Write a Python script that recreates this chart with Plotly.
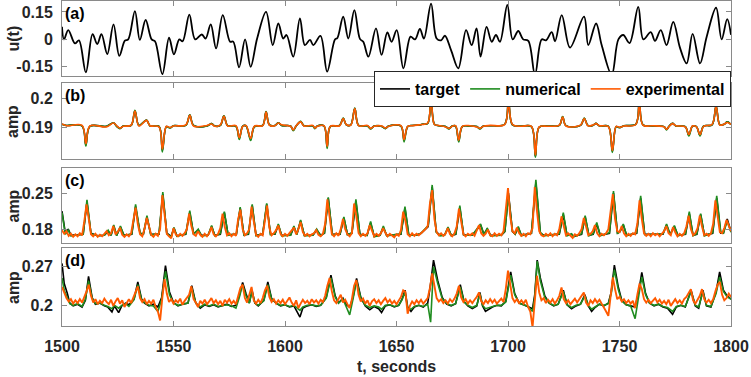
import plotly.graph_objects as go

# ---------------- data ----------------
a_t = [1500.0,1500.9,1502.8,1505.8,1507.6,1510.7,1513.7,1515.8,1517.7,1520.3,
       1523.1,1525.7,1528.2,1529.7,1532.7,1534.9,1537.5,1540.2,1541.7,1545.0,
       1548.0,1550.2,1552.6,1554.1,1557.1,1559.7,1562.7,1564.4,1566.7,1569.1,
       1572.1,1575.4,1576.8,1579.4,1582.1,1584.6,1587.5,1591.5,1594.5,1597.0,
       1599.2,1600.7,1603.7,1606.7,1608.9,1611.2,1612.7,1615.9,1618.9,1622.4,
       1623.5,1626.1,1628.4,1631.1,1633.6,1635.1,1637.4,1640.8,1643.3,1645.9,
       1647.8,1650.1,1653.1,1656.3,1658.3,1660.5,1662.3,1665.5,1668.0,1670.0,
       1671.7,1674.5,1677.7,1681.2,1683.7,1685.9,1687.7,1690.4,1692.7,1694.6,
       1696.4,1699.7,1702.1,1704.6,1706.8,1709.1,1712.1,1715.1,1717.0,1719.6,
       1721.1,1724.1,1727.8,1734.1,1736.0,1739.5,1742.0,1746.5,1749.5,1751.7,
       1754.5,1758.4,1760.7,1764.0,1765.9,1768.5,1771.1,1774.1,1777.1,1780.1,
       1782.8,1786.1,1789.1,1793.3,1795.8,1798.3,1800.0]
a_u = [0.069,0.000,0.051,-0.022,-0.005,-0.180,0.029,-0.025,0.029,-0.080,
       0.082,-0.090,-0.007,0.000,0.155,-0.003,0.106,0.000,-0.010,-0.190,
       0.009,-0.082,0.000,-0.010,0.136,0.000,0.027,0.005,0.082,-0.049,
       0.133,-0.013,-0.012,-0.153,0.000,-0.150,0.005,0.151,-0.031,0.087,
       0.005,0.024,-0.094,0.115,-0.031,-0.003,-0.031,0.019,-0.176,0.000,
       0.008,0.124,0.005,0.160,0.003,-0.013,-0.094,0.060,-0.085,0.038,
       -0.013,0.051,-0.158,0.015,0.000,0.057,0.005,0.196,0.005,-0.005,
       0.020,-0.060,-0.158,0.051,-0.031,0.060,-0.094,0.069,-0.013,0.024,
       -0.013,0.188,0.000,0.046,0.000,-0.008,-0.194,0.000,-0.005,0.040,
       -0.010,0.133,-0.045,0.124,-0.031,0.087,-0.031,-0.194,0.000,0.024,
       -0.020,0.178,0.000,0.040,-0.008,0.051,-0.031,0.096,-0.045,-0.131,
       0.030,-0.131,0.015,0.173,0.000,0.111,0.025]

b_t = [1500,1502,1509,1510.7,1512.5,1520,1523.1,1524.5,1526,1527.5,
       1531,1532.7,1534.5,1537.9,1539.5,1543.5,1545.0,1546.8,1548.5,1550,
       1555.5,1557.3,1559,1565,1567.1,1568.5,1571,1572.6,1574.3,1578,
       1579.5,1581,1582.5,1584.6,1586.3,1590,1591.5,1593,1595.5,1597.0,
       1598.5,1602.5,1603.7,1605,1607.0,1608.5,1612.5,1613.4,1614.5,1617.5,
       1618.9,1620.3,1624.5,1626.1,1627.5,1629.5,1631.3,1633,1637,1638.4,
       1640,1643.5,1645,1646.5,1652,1653.4,1655,1657,1660,1661.5,
       1664,1665.5,1667,1669,1672,1673.5,1675,1676.5,1677.9,1679.5,
       1683,1686,1687.4,1689,1692,1698.5,1700.2,1702,1706,1710.5,
       1712.3,1714,1718,1723,1724.5,1726,1732.5,1734.2,1735.8,1738,
       1739.5,1741,1745,1746.8,1748.5,1750,1752,1757.3,1758.9,1760.5,
       1765,1770,1771.1,1772.3,1773.8,1775.3,1779.5,1781.1,1782.7,1784.5,
       1786.1,1787.7,1791.5,1793.3,1795,1797,1798.3,1800]
b_target = [0.1912,0.1908,0.1906,0.1842,0.1905,0.1905,0.1917,0.1905,0.1898,0.1906,
            0.1908,0.1958,0.1908,0.1926,0.1906,0.1905,0.1824,0.1904,0.1900,0.1907,
            0.1908,0.1943,0.1908,0.1906,0.1914,0.1906,0.1908,0.1940,0.1907,0.1905,
            0.1864,0.1905,0.1907,0.1862,0.1904,0.1908,0.1954,0.1910,0.1908,0.1917,
            0.1908,0.1906,0.1892,0.1906,0.1921,0.1907,0.1906,0.1898,0.1906,0.1906,
            0.1835,0.1904,0.1908,0.1932,0.1910,0.1910,0.1966,0.1908,0.1906,0.1897,
            0.1906,0.1904,0.1898,0.1906,0.1906,0.1858,0.1904,0.1908,0.1909,0.1912,
            0.1915,0.2000,0.1912,0.1907,0.1904,0.1897,0.1906,0.1906,0.1856,0.1904,
            0.1906,0.1904,0.1897,0.1906,0.1907,0.1912,0.1990,0.1910,0.1906,0.1904,
            0.1804,0.1902,0.1906,0.1908,0.1937,0.1907,0.1908,0.1932,0.1908,0.1908,
            0.1915,0.1906,0.1905,0.1821,0.1904,0.1901,0.1907,0.1912,0.1990,0.1910,
            0.1906,0.1904,0.1894,0.1906,0.1915,0.1906,0.1904,0.1875,0.1905,0.1904,
            0.1875,0.1906,0.1910,0.1974,0.1910,0.1912,0.1920,0.1911]
b_numerical = [0.1911,0.1908,0.1906,0.1838,0.1905,0.1905,0.1917,0.1905,0.1897,0.1906,
               0.1908,0.1959,0.1908,0.1926,0.1906,0.1905,0.1818,0.1904,0.1899,0.1907,
               0.1908,0.1944,0.1908,0.1906,0.1914,0.1906,0.1908,0.1941,0.1907,0.1905,
               0.1860,0.1905,0.1907,0.1857,0.1904,0.1908,0.1955,0.1910,0.1908,0.1917,
               0.1908,0.1906,0.1890,0.1906,0.1922,0.1907,0.1906,0.1897,0.1906,0.1906,
               0.1830,0.1904,0.1908,0.1933,0.1910,0.1910,0.1967,0.1908,0.1906,0.1896,
               0.1906,0.1904,0.1897,0.1906,0.1906,0.1852,0.1904,0.1908,0.1909,0.1912,
               0.1915,0.2002,0.1912,0.1907,0.1904,0.1896,0.1906,0.1906,0.1852,0.1904,
               0.1906,0.1904,0.1896,0.1906,0.1907,0.1912,0.1992,0.1910,0.1906,0.1904,
               0.1800,0.1902,0.1906,0.1908,0.1938,0.1907,0.1908,0.1933,0.1908,0.1908,
               0.1915,0.1906,0.1905,0.1816,0.1904,0.1900,0.1907,0.1912,0.1996,0.1910,
               0.1906,0.1904,0.1893,0.1906,0.1915,0.1906,0.1904,0.1872,0.1905,0.1904,
               0.1872,0.1906,0.1910,0.1975,0.1910,0.1912,0.1920,0.1911]
b_experimental = [0.1913,0.1907,0.1908,0.1846,0.1906,0.1903,0.1916,0.1907,0.1899,0.1905,
                  0.1909,0.1957,0.1906,0.1925,0.1907,0.1903,0.1828,0.1905,0.1901,0.1906,
                  0.1910,0.1942,0.1906,0.1908,0.1913,0.1905,0.1910,0.1939,0.1906,0.1907,
                  0.1866,0.1904,0.1908,0.1864,0.1906,0.1907,0.1953,0.1909,0.1907,0.1916,
                  0.1910,0.1905,0.1893,0.1907,0.1920,0.1906,0.1908,0.1899,0.1905,0.1907,
                  0.1837,0.1905,0.1907,0.1931,0.1911,0.1909,0.1965,0.1907,0.1908,0.1898,
                  0.1905,0.1906,0.1899,0.1905,0.1907,0.1860,0.1905,0.1907,0.1910,0.1911,
                  0.1916,0.1998,0.1911,0.1908,0.1903,0.1898,0.1905,0.1907,0.1858,0.1905,
                  0.1907,0.1903,0.1898,0.1905,0.1908,0.1911,0.1988,0.1911,0.1905,0.1905,
                  0.1808,0.1903,0.1905,0.1909,0.1936,0.1906,0.1909,0.1931,0.1907,0.1909,
                  0.1914,0.1907,0.1904,0.1823,0.1905,0.1902,0.1906,0.1911,0.1988,0.1909,
                  0.1907,0.1903,0.1895,0.1905,0.1914,0.1907,0.1903,0.1877,0.1906,0.1903,
                  0.1877,0.1905,0.1911,0.1972,0.1909,0.1913,0.1918,0.1912]

c_t = [1500,1501.5,1502.8,1504,1509.5,1511.2,1513,1516,1519,1520.7,
       1522,1523.2,1524.5,1526.2,1527.8,1531.3,1533.0,1535,1536.5,1538.1,
       1539.8,1543.5,1545.2,1547,1549,1550.2,1551.5,1555.5,1557.3,1559,
       1561.1,1562.5,1565.5,1567.1,1568.5,1571,1572.8,1574.5,1578.2,1579.9,
       1581.6,1583.6,1585.3,1587,1590,1591.8,1593.5,1595.5,1597.0,1598.5,
       1602.5,1604.0,1605.3,1607.0,1608.7,1612.5,1614.2,1616,1617.7,1619.4,
       1621.2,1624.7,1626.4,1628,1630,1631.8,1633.6,1636.8,1638.4,1640,
       1642.6,1644.1,1645.6,1652,1653.8,1655.5,1659,1661,1664.2,1666.0,
       1667.8,1669.5,1671.5,1673.1,1674.6,1676.6,1678.4,1680.1,1684,1687.7,
       1689.2,1690.7,1692.2,1697,1698.6,1700.2,1702,1703.2,1704.6,1706,
       1710.5,1712.5,1714.5,1716,1723,1724.8,1726.5,1728.5,1729.5,1733,
       1734.6,1736.3,1738.2,1739.8,1741.4,1745.5,1747.3,1749.1,1750.2,1751.7,
       1753.2,1757.7,1759.5,1761.3,1769.5,1771.1,1772.7,1774.6,1776.2,1779.6,
       1781.3,1783,1784.7,1786.4,1788.1,1791.8,1793.6,1795.4,1796.6,1798.3,
       1800]
c_target = [0.215,0.172,0.180,0.168,0.170,0.232,0.172,0.167,0.168,0.176,
            0.168,0.186,0.168,0.184,0.168,0.170,0.224,0.172,0.170,0.203,
            0.170,0.170,0.248,0.172,0.166,0.182,0.167,0.170,0.212,0.171,
            0.178,0.168,0.168,0.185,0.168,0.170,0.212,0.169,0.170,0.221,
            0.169,0.170,0.226,0.168,0.170,0.228,0.170,0.170,0.188,0.168,
            0.168,0.184,0.170,0.196,0.168,0.168,0.178,0.168,0.172,0.240,
            0.170,0.170,0.202,0.170,0.172,0.234,0.170,0.168,0.192,0.166,
            0.168,0.183,0.168,0.170,0.221,0.169,0.168,0.172,0.185,0.262,
            0.175,0.168,0.168,0.182,0.168,0.170,0.222,0.169,0.168,0.188,
            0.170,0.180,0.168,0.168,0.175,0.250,0.175,0.170,0.183,0.168,
            0.172,0.270,0.172,0.168,0.170,0.208,0.168,0.170,0.166,0.170,
            0.204,0.168,0.170,0.190,0.168,0.172,0.250,0.172,0.175,0.188,
            0.168,0.172,0.240,0.170,0.170,0.188,0.170,0.185,0.168,0.170,
            0.210,0.168,0.170,0.208,0.168,0.172,0.240,0.172,0.172,0.200,
            0.175]
c_numerical = [0.212,0.170,0.178,0.167,0.170,0.237,0.171,0.167,0.168,0.178,
               0.168,0.188,0.167,0.186,0.167,0.171,0.228,0.172,0.171,0.206,
               0.169,0.171,0.252,0.171,0.165,0.183,0.166,0.171,0.216,0.170,
               0.180,0.167,0.168,0.187,0.167,0.171,0.214,0.168,0.171,0.223,
               0.168,0.171,0.228,0.167,0.171,0.230,0.169,0.171,0.190,0.167,
               0.168,0.186,0.169,0.198,0.167,0.168,0.180,0.167,0.173,0.242,
               0.169,0.171,0.204,0.169,0.173,0.238,0.169,0.168,0.195,0.165,
               0.168,0.186,0.167,0.171,0.224,0.168,0.168,0.172,0.187,0.266,
               0.174,0.167,0.168,0.184,0.167,0.171,0.226,0.168,0.168,0.190,
               0.169,0.182,0.167,0.168,0.176,0.246,0.176,0.170,0.185,0.167,
               0.172,0.276,0.174,0.167,0.171,0.212,0.167,0.171,0.165,0.171,
               0.206,0.167,0.171,0.193,0.167,0.173,0.254,0.171,0.176,0.190,
               0.167,0.173,0.245,0.169,0.171,0.190,0.169,0.187,0.167,0.171,
               0.214,0.167,0.171,0.210,0.167,0.173,0.245,0.174,0.172,0.196,
               0.174]
# experimental (c): one reading per second, 1500 ... 1800
c_experimental = [
    0.178,0.171,0.176,0.167,0.171,0.165,0.170,0.166,0.172,0.168,
    0.195,0.228,0.200,0.170,0.166,0.171,0.165,0.169,0.166,0.172,
    0.176,0.168,0.172,0.186,0.170,0.175,0.183,0.169,0.165,0.170,
    0.166,0.172,0.195,0.222,0.190,0.170,0.166,0.180,0.202,0.185,
    0.169,0.165,0.171,0.167,0.180,0.246,0.205,0.171,0.166,0.162,
    0.182,0.170,0.166,0.171,0.167,0.172,0.180,0.210,0.186,0.170,
    0.167,0.176,0.169,0.165,0.171,0.166,0.172,0.184,0.170,0.166,
    0.171,0.182,0.210,0.184,0.168,0.172,0.166,0.171,0.167,0.200,
    0.218,0.180,0.168,0.172,0.180,0.224,0.195,0.169,0.165,0.171,
    0.168,0.200,0.226,0.182,0.168,0.172,0.178,0.187,0.171,0.166,
    0.171,0.167,0.172,0.176,0.183,0.170,0.180,0.194,0.174,0.167,
    0.171,0.166,0.170,0.172,0.178,0.169,0.166,0.171,0.190,0.238,
    0.200,0.171,0.166,0.172,0.167,0.180,0.200,0.180,0.170,0.166,
    0.172,0.230,0.205,0.172,0.166,0.171,0.167,0.172,0.188,0.176,
    0.166,0.171,0.167,0.172,0.182,0.173,0.166,0.171,0.168,0.164,
    0.170,0.167,0.178,0.214,0.196,0.170,0.166,0.172,0.167,0.171,
    0.168,0.172,0.175,0.180,0.186,0.230,0.256,0.200,0.174,0.168,
    0.172,0.167,0.171,0.182,0.170,0.166,0.172,0.185,0.220,0.190,
    0.170,0.166,0.171,0.168,0.172,0.167,0.176,0.188,0.172,0.167,
    0.171,0.179,0.168,0.166,0.172,0.167,0.171,0.168,0.176,0.215,
    0.260,0.205,0.176,0.172,0.183,0.172,0.167,0.171,0.166,0.172,
    0.170,0.182,0.262,0.215,0.176,0.168,0.166,0.171,0.167,0.172,
    0.166,0.171,0.168,0.180,0.205,0.186,0.168,0.172,0.167,0.163,
    0.170,0.167,0.172,0.180,0.202,0.182,0.168,0.171,0.176,0.188,
    0.172,0.166,0.171,0.168,0.172,0.180,0.218,0.248,0.200,0.176,
    0.174,0.186,0.172,0.166,0.171,0.167,0.172,0.170,0.190,0.236,
    0.200,0.172,0.167,0.171,0.166,0.172,0.168,0.171,0.166,0.171,
    0.176,0.186,0.172,0.168,0.184,0.174,0.166,0.171,0.167,0.172,
    0.185,0.206,0.180,0.168,0.172,0.182,0.206,0.185,0.168,0.171,
    0.167,0.172,0.190,0.236,0.205,0.174,0.172,0.182,0.198,0.186,
    0.176]

d_t = [1500,1501,1502.4,1503.5,1505,1507,1509,1510.5,1511.9,1513.5,
       1515,1517,1519,1520.5,1522.4,1523.5,1525.4,1526.8,1528.5,1530,
       1532.3,1534.0,1535.7,1537,1539,1541,1543,1544.7,1546.4,1548.2,
       1550,1552,1554,1556.5,1558.2,1560,1562,1564,1566,1568,
       1570,1572,1574,1576,1578,1579.5,1581.0,1582.5,1584,1585.2,
       1586.5,1588,1590.5,1592.3,1594,1596,1598,1600,1602,1604,
       1605.5,1606.7,1608,1610,1612,1614,1616,1618.5,1620.6,1622.5,
       1624,1626,1627.5,1629,1630.5,1632.1,1634,1636,1638,1640,
       1642,1643.3,1645,1647,1649,1651,1652.5,1653.8,1655,1656.5,
       1658,1660,1662,1664,1665.3,1666.6,1668.5,1670.5,1672.5,1674.5,
       1676.5,1678.6,1680.3,1682,1684,1686,1687.4,1688.6,1689.9,1691.5,
       1693,1695,1697,1699,1701.2,1703,1705,1707,1709,1711,
       1712,1713.1,1714.5,1716.5,1718.5,1720.5,1722.5,1724.8,1726.5,1728.5,
       1730.5,1732.5,1734.5,1736,1737.5,1739,1741,1743,1745,1746.3,
       1747.7,1749.4,1751,1753,1755,1757,1758.6,1760.0,1761.7,1763.5,
       1765.5,1767.5,1769.5,1771.5,1773.8,1775.5,1777.5,1779.5,1782.1,1784,
       1785.5,1787.4,1789,1791,1793.3,1794.9,1796.6,1798.3,1800]
d_target = [0.276,0.240,0.222,0.205,0.200,0.203,0.198,0.210,0.253,0.215,
            0.203,0.205,0.200,0.198,0.189,0.200,0.188,0.200,0.205,0.202,
            0.212,0.243,0.212,0.205,0.200,0.203,0.198,0.215,0.272,0.225,
            0.206,0.200,0.203,0.205,0.236,0.205,0.196,0.202,0.199,0.202,
            0.198,0.200,0.203,0.199,0.201,0.218,0.242,0.222,0.205,0.228,
            0.205,0.200,0.210,0.243,0.213,0.205,0.200,0.202,0.198,0.200,
            0.190,0.180,0.196,0.200,0.202,0.199,0.201,0.215,0.255,0.218,
            0.205,0.214,0.202,0.198,0.215,0.249,0.215,0.200,0.193,0.199,
            0.195,0.188,0.200,0.202,0.198,0.201,0.212,0.228,0.198,0.190,
            0.198,0.201,0.198,0.205,0.240,0.282,0.245,0.215,0.203,0.200,
            0.204,0.238,0.208,0.200,0.195,0.200,0.224,0.200,0.190,0.195,
            0.198,0.201,0.200,0.208,0.261,0.222,0.205,0.202,0.198,0.195,
            0.220,0.282,0.250,0.218,0.205,0.200,0.203,0.228,0.202,0.195,
            0.200,0.203,0.220,0.200,0.190,0.197,0.203,0.200,0.205,0.225,
            0.273,0.235,0.210,0.202,0.200,0.198,0.225,0.260,0.222,0.205,
            0.200,0.203,0.198,0.196,0.185,0.198,0.201,0.198,0.228,0.200,
            0.196,0.228,0.200,0.198,0.225,0.261,0.228,0.218,0.212]
d_numerical = [0.250,0.228,0.215,0.204,0.201,0.204,0.199,0.212,0.245,0.214,
               0.204,0.205,0.201,0.199,0.195,0.201,0.196,0.201,0.204,0.199,
               0.211,0.238,0.211,0.206,0.201,0.200,0.190,0.212,0.262,0.220,
               0.205,0.201,0.203,0.205,0.232,0.205,0.198,0.203,0.200,0.203,
               0.199,0.201,0.202,0.200,0.196,0.215,0.238,0.218,0.205,0.226,
               0.205,0.201,0.209,0.238,0.212,0.205,0.201,0.202,0.199,0.201,
               0.195,0.192,0.198,0.201,0.202,0.200,0.201,0.214,0.250,0.216,
               0.205,0.212,0.198,0.184,0.212,0.245,0.214,0.201,0.197,0.200,
               0.198,0.194,0.201,0.202,0.199,0.201,0.211,0.225,0.196,0.194,
               0.199,0.201,0.199,0.203,0.171,0.270,0.240,0.213,0.204,0.201,
               0.204,0.234,0.207,0.201,0.197,0.201,0.222,0.201,0.195,0.197,
               0.199,0.201,0.201,0.207,0.255,0.220,0.205,0.202,0.199,0.190,
               0.215,0.280,0.245,0.215,0.205,0.201,0.203,0.226,0.202,0.197,
               0.201,0.203,0.218,0.201,0.194,0.198,0.203,0.201,0.204,0.222,
               0.265,0.230,0.209,0.202,0.200,0.177,0.222,0.252,0.220,0.205,
               0.201,0.203,0.199,0.197,0.190,0.199,0.201,0.199,0.226,0.201,
               0.198,0.226,0.201,0.199,0.222,0.252,0.226,0.216,0.212]
# experimental (d): one reading per second, 1500 ... 1800
d_experimental = [
    0.234,0.222,0.214,0.208,0.212,0.204,0.210,0.205,0.212,0.206,
    0.215,0.226,0.238,0.218,0.206,0.212,0.203,0.209,0.205,0.213,
    0.207,0.203,0.211,0.200,0.208,0.214,0.204,0.210,0.198,0.206,
    0.212,0.205,0.215,0.226,0.235,0.214,0.207,0.212,0.203,0.209,
    0.204,0.211,0.198,0.190,0.174,0.215,0.248,0.222,0.207,0.212,
    0.204,0.210,0.206,0.213,0.202,0.209,0.214,0.220,0.235,0.212,
    0.206,0.198,0.209,0.204,0.211,0.203,0.208,0.214,0.205,0.210,
    0.203,0.209,0.200,0.211,0.206,0.212,0.204,0.209,0.203,0.218,
    0.232,0.238,0.214,0.206,0.222,0.234,0.210,0.204,0.211,0.205,
    0.214,0.228,0.236,0.216,0.207,0.212,0.204,0.210,0.205,0.211,
    0.203,0.209,0.215,0.206,0.200,0.210,0.196,0.204,0.211,0.205,
    0.209,0.203,0.212,0.206,0.210,0.204,0.211,0.207,0.218,0.236,
    0.250,0.226,0.210,0.205,0.212,0.220,0.206,0.211,0.203,0.196,
    0.212,0.236,0.246,0.220,0.208,0.213,0.204,0.210,0.200,0.208,
    0.212,0.205,0.210,0.203,0.209,0.214,0.206,0.211,0.204,0.209,
    0.203,0.210,0.216,0.228,0.225,0.186,0.200,0.208,0.203,0.210,
    0.205,0.211,0.204,0.209,0.214,0.232,0.258,0.236,0.214,0.208,
    0.212,0.205,0.210,0.204,0.212,0.207,0.213,0.222,0.236,0.215,
    0.207,0.212,0.204,0.210,0.205,0.211,0.216,0.224,0.208,0.203,
    0.210,0.205,0.212,0.206,0.211,0.204,0.209,0.213,0.207,0.230,
    0.263,0.235,0.214,0.207,0.212,0.205,0.210,0.204,0.211,0.198,
    0.190,0.162,0.215,0.254,0.224,0.210,0.214,0.205,0.211,0.206,
    0.212,0.204,0.210,0.218,0.233,0.212,0.205,0.210,0.203,0.209,
    0.213,0.206,0.211,0.218,0.224,0.206,0.200,0.210,0.205,0.212,
    0.206,0.211,0.204,0.198,0.190,0.182,0.222,0.251,0.230,0.212,
    0.216,0.208,0.212,0.205,0.210,0.204,0.209,0.196,0.220,0.240,
    0.230,0.212,0.206,0.211,0.205,0.210,0.214,0.206,0.211,0.204,
    0.209,0.203,0.211,0.200,0.206,0.212,0.205,0.210,0.204,0.212,
    0.216,0.224,0.230,0.210,0.204,0.211,0.218,0.230,0.212,0.206,
    0.211,0.205,0.212,0.226,0.238,0.243,0.220,0.210,0.214,0.222,
    0.216]
sec_t = list(range(1500, 1801))

x_ticks = [1500, 1550, 1600, 1650, 1700, 1750, 1800]
series_names = ["target", "numerical", "experimental"]
panel_labels = ["(a)", "(b)", "(c)", "(d)"]
y_titles = ["u(t)", "amp", "amp", "amp"]
y_ticks = [[-0.15, 0, 0.15], [0.19, 0.2], [0.18, 0.25], [0.2, 0.27]]
y_ticktext = [["-0.15", "0", "0.15"], ["0.19", "0.2"], ["0.18", "0.25"], ["0.2", "0.27"]]
y_ranges = [[-0.2, 0.21], [0.1794, 0.2052], [0.153, 0.299], [0.164, 0.3036]]

# ---------------- styling ----------------
W, H = 751, 377
X0, X1 = 62 / W, 731 / W
PANEL_PX = [(1, 76), (83, 159), (168, 243), (248, 326)]
BLACK, GREEN, ORANGE = "#000000", "#1f8c1f", "#ff5a00"
AXC = "#262626"
LINEC = "#8a8a8a"
FONT = "Liberation Sans, Arial, sans-serif"

fig = go.Figure()

fig.add_trace(go.Scatter(x=a_t, y=a_u, mode="lines",
                         line=dict(color=BLACK, width=1.8, shape="spline", smoothing=1.0),
                         showlegend=False, xaxis="x", yaxis="y"))

panels = [
    (b_t, b_target, b_numerical, b_t, b_experimental, "2", "spline", 1.6),
    (c_t, c_target, c_numerical, sec_t, c_experimental, "3", "linear", 1.9),
    (d_t, d_target, d_numerical, sec_t, d_experimental, "4", "linear", 1.9),
]
for i, (tt, tgt, num, te, exp_, k, shp, ow) in enumerate(panels):
    show = (i == 0)
    fig.add_trace(go.Scatter(x=tt, y=tgt, mode="lines", name=series_names[0],
                             line=dict(color=BLACK, width=1.6, shape=shp), showlegend=show,
                             xaxis="x" + k, yaxis="y" + k))
    fig.add_trace(go.Scatter(x=tt, y=num, mode="lines", name=series_names[1],
                             line=dict(color=GREEN, width=1.6, shape=shp), showlegend=show,
                             xaxis="x" + k, yaxis="y" + k))
    fig.add_trace(go.Scatter(x=te, y=exp_, mode="lines", name=series_names[2],
                             line=dict(color=ORANGE, width=ow, shape=shp), showlegend=show,
                             xaxis="x" + k, yaxis="y" + k))

layout = dict(
    template="none",
    width=W, height=H, margin=dict(l=0, r=0, t=0, b=0, pad=0, autoexpand=False),
    paper_bgcolor="white", plot_bgcolor="white",
    font=dict(family=FONT, size=16, color=AXC, weight="bold"),
    legend=dict(orientation="h", x=X1, xanchor="right", y=1 - 71 / H, yanchor="top",
                bgcolor="white", bordercolor="#262626", borderwidth=1,
                font=dict(family=FONT, size=16, color="#000000", weight="bold"),
                itemwidth=30, tracegroupgap=0),
    annotations=[],
)

for i in range(4):
    top, bot = PANEL_PX[i]
    suffix = "" if i == 0 else str(i + 1)
    layout["xaxis" + suffix] = dict(
        domain=[X0, X1], range=[1500, 1800], anchor="y" + suffix, automargin=False,
        tickvals=x_ticks, ticks="inside", ticklen=5, tickcolor=LINEC, tickwidth=1,
        showline=True, linecolor=LINEC, linewidth=1, mirror="ticks",
        showgrid=False, zeroline=False, showticklabels=(i == 3),
        tickfont=dict(family=FONT, size=16, color=AXC, weight="bold"),
        ticklabelstandoff=6,
    )
    layout["yaxis" + suffix] = dict(
        domain=[1 - bot / H, 1 - top / H], range=y_ranges[i], anchor="x" + suffix,
        automargin=False,
        tickvals=y_ticks[i], ticktext=y_ticktext[i], ticks="inside", ticklen=5,
        tickcolor=LINEC, tickwidth=1, showline=True, linecolor=LINEC, linewidth=1,
        mirror="ticks", showgrid=False, zeroline=False,
        tickfont=dict(family=FONT, size=16, color=AXC, weight="bold"),
        ticklabelstandoff=5,
    )
    layout["annotations"].append(dict(
        text=panel_labels[i], xref="paper", yref="paper", x=63 / W, y=1 - top / H,
        xanchor="left", yanchor="top", yshift=-2, showarrow=False,
        font=dict(family=FONT, size=16, color="#000000", weight="bold")))
    layout["annotations"].append(dict(
        text=y_titles[i], xref="paper", yref="paper", x=13 / W, y=1 - (top + bot) / 2 / H,
        xanchor="center", yanchor="middle", textangle=-90, showarrow=False,
        font=dict(family=FONT, size=16, color=AXC, weight="bold")))

layout["annotations"].append(dict(
    text="t, seconds", xref="paper", yref="paper", x=(X0 + X1) / 2, y=1 - 366 / H,
    xanchor="center", yanchor="middle", showarrow=False,
    font=dict(family=FONT, size=16, color=AXC, weight="bold")))

fig.update_layout(**layout)
fig.write_html("out.html", config={"displayModeBar": False},
               post_script="document.body.style.margin='0';document.body.style.padding='0';")
